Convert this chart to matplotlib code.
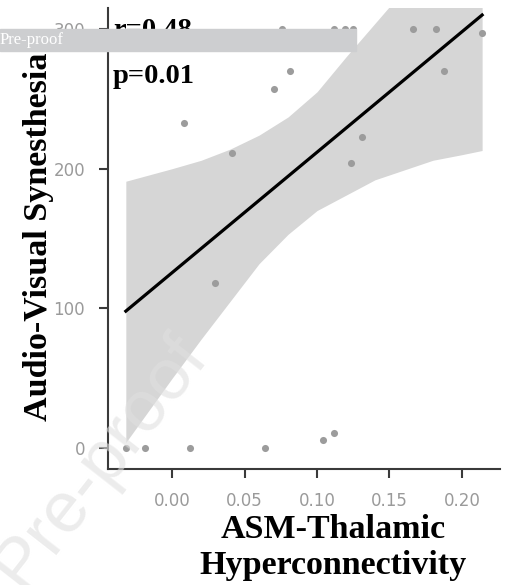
import numpy as np
import matplotlib.pyplot as plt
from matplotlib.patches import Rectangle

# scatter points
thal_x = [-0.032, -0.0185, 0.012, 0.064, 0.104, 0.112,
          0.076, 0.112, 0.119, 0.125, 0.166, 0.182, 0.214,
          0.0812, 0.0705, 0.008, 0.0413, 0.131, 0.1237, 0.1875, 0.0296]
avs_y = [0, 0, 0, 0, 6, 11,
         300, 300, 300, 300, 300, 300, 297,
         270, 257, 233, 211, 223, 204, 270, 118]

# fitted line and confidence band as drawn in the reference
fit_x = [-0.032, 0.214]
fit_y = [98, 310]
band_x = [-0.032, 0.0, 0.02, 0.04, 0.06, 0.08, 0.10, 0.12, 0.14, 0.16, 0.18, 0.20, 0.214]
band_hi = [191, 200, 206, 214, 224, 237, 255, 280, 304, 328, 354, 383, 405]
band_lo = [4, 50, 78, 105, 132, 153, 170, 181, 192, 199, 206, 210, 213]

xticks = [0.00, 0.05, 0.10, 0.15, 0.20]
yticks = [0, 100, 200, 300]

serif = 'Liberation Serif'

fig = plt.figure(figsize=(5.09, 5.85), dpi=100)
ax = fig.add_axes([0.2122, 0.1983, 0.770, 0.788])

ax.fill_between(band_x, band_lo, band_hi, color='#d6d6d6', lw=0, zorder=1)
ax.scatter(thal_x, avs_y, s=26, color='#9c9c9c', lw=0, zorder=2)
ax.plot(fit_x, fit_y, color='black', lw=2.3, zorder=3)

ax.set_xlim(-0.0443, 0.2263)
ax.set_ylim(-15, 315)
ax.set_xticks(xticks)
ax.set_xticklabels(['%.2f' % v for v in xticks])
ax.set_yticks(yticks)
ax.set_yticklabels([str(v) for v in yticks])

for s in ['top', 'right']:
    ax.spines[s].set_visible(False)
for s in ['left', 'bottom']:
    ax.spines[s].set_color('#3a3a3a')
    ax.spines[s].set_linewidth(1.5)
ax.tick_params(length=6.5, width=1.5, color='#3a3a3a',
               labelcolor='#9a9a9a', labelsize=12, pad=10)

fig.text(0.0756, 0.595, 'Audio-Visual Synesthesia', rotation=90,
         ha='center', va='center', fontsize=24.5, fontweight='bold', family=serif)
fig.text(0.654, 1 - 574 / 585, 'ASM-Thalamic\nHyperconnectivity', ha='center',
         va='baseline', fontsize=24.5, fontweight='bold', family=serif,
         linespacing=1.2)

fig.text(113 / 509, 1 - 37 / 585, 'r=0.48', ha='left', va='baseline',
         fontsize=20.5, fontweight='bold', family=serif)
fig.text(113 / 509, 1 - 83 / 585, 'p=0.01', ha='left', va='baseline',
         fontsize=20.5, fontweight='bold', family=serif)

# "Pre-proof" banner and watermark
fig.patches.append(Rectangle((0, 1 - 50.7 / 585), 356 / 509, 21.4 / 585,
                             transform=fig.transFigure, color='#cdced0',
                             zorder=10))
fig.text(0.0, 1 - 44 / 585, 'Pre-proof', ha='left', va='baseline', color='white',
         fontsize=12, family=serif, zorder=11)
fig.text(100 / 509, 1 - 462 / 585, 'Pre-proof', rotation=52, ha='center',
         va='center', fontsize=52, family='Liberation Sans', color='#e0e0e0',
         alpha=0.6, zorder=12)

fig.savefig('out.png', dpi=100)
